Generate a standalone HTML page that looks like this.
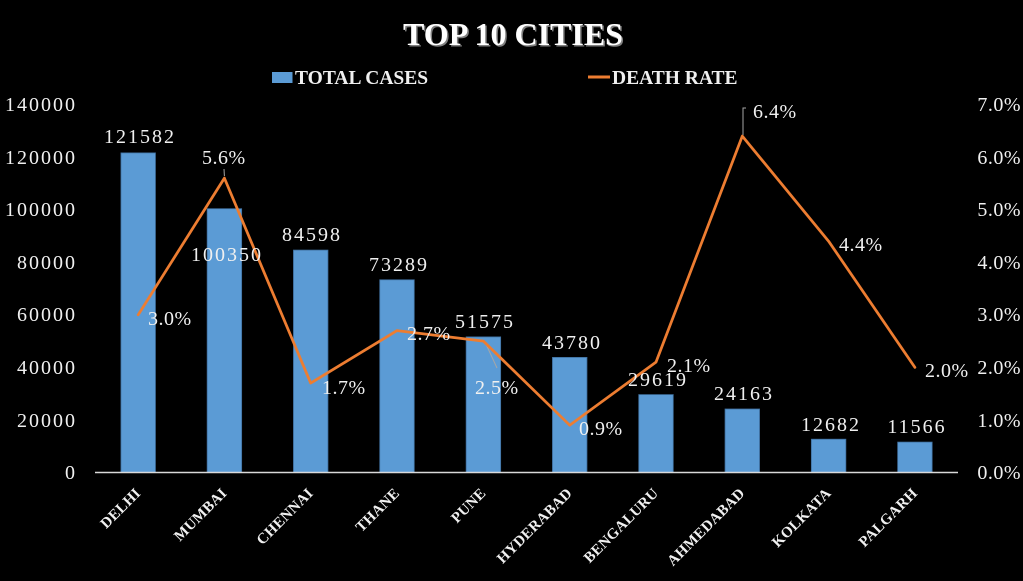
<!DOCTYPE html>
<html>
<head>
<meta charset="utf-8">
<style>
html,body{margin:0;padding:0;background:#000;}
svg{display:block;}
text{font-family:"Liberation Serif",serif;fill:#f0f0f0;}
.num{font-size:20px;letter-spacing:2px;}
.pct{font-size:20px;letter-spacing:0.5px;}
.cat{font-size:15px;font-weight:bold;letter-spacing:0.3px;}
.leg{font-size:19.5px;font-weight:bold;}
</style>
</head>
<body>
<svg width="1023" height="581" viewBox="0 0 1023 581" xmlns="http://www.w3.org/2000/svg">
<rect width="1023" height="581" fill="#000"/>

<!-- Title -->
<text x="513" y="45" text-anchor="middle" style="font-size:32px;font-weight:bold;fill:#7f7f7f" transform="translate(1.5,1.5)">TOP 10 CITIES</text>
<text x="513" y="45" text-anchor="middle" style="font-size:32px;font-weight:bold;fill:#ffffff">TOP 10 CITIES</text>

<!-- Legend -->
<rect x="272" y="72" width="20.5" height="11" fill="#5B9BD5"/>
<text class="leg" x="295" y="84">TOTAL CASES</text>
<line x1="588" y1="77" x2="610" y2="77" stroke="#ED7D31" stroke-width="3"/>
<text class="leg" x="612" y="84">DEATH RATE</text>

<!-- Left axis labels -->
<g text-anchor="end">
<text class="num" x="77" y="111">140000</text>
<text class="num" x="77" y="164">120000</text>
<text class="num" x="77" y="216">100000</text>
<text class="num" x="77" y="269">80000</text>
<text class="num" x="77" y="321">60000</text>
<text class="num" x="77" y="374">40000</text>
<text class="num" x="77" y="427">20000</text>
<text class="num" x="77" y="479">0</text>
</g>

<!-- Right axis labels -->
<g text-anchor="end">
<text class="pct" x="1021" y="111">7.0%</text>
<text class="pct" x="1021" y="164">6.0%</text>
<text class="pct" x="1021" y="216">5.0%</text>
<text class="pct" x="1021" y="269">4.0%</text>
<text class="pct" x="1021" y="321">3.0%</text>
<text class="pct" x="1021" y="374">2.0%</text>
<text class="pct" x="1021" y="427">1.0%</text>
<text class="pct" x="1021" y="479">0.0%</text>
</g>

<!-- Bars -->
<g fill="#5B9BD5" stroke="#3f6f9e" stroke-width="0.8">
<rect x="120.95" y="152.9" width="34.5" height="319.6"/>
<rect x="207.15" y="208.7" width="34.5" height="263.8"/>
<rect x="293.45" y="250.1" width="34.5" height="222.4"/>
<rect x="379.75" y="279.8" width="34.5" height="192.7"/>
<rect x="466.15" y="336.9" width="34.5" height="135.6"/>
<rect x="552.45" y="357.4" width="34.5" height="115.1"/>
<rect x="638.75" y="394.6" width="34.5" height="77.9"/>
<rect x="725.05" y="409.0" width="34.5" height="63.5"/>
<rect x="811.35" y="439.2" width="34.5" height="33.3"/>
<rect x="897.65" y="442.1" width="34.5" height="30.4"/>
</g>

<!-- Axis line -->
<line x1="95" y1="472.5" x2="958" y2="472.5" stroke="#d9d9d9" stroke-width="1.5"/>

<!-- Leader lines -->
<g stroke="#a6a6a6" stroke-width="1" fill="none">
<line x1="224" y1="169" x2="224.4" y2="176"/>
<polyline points="746,108 743,108 743,135"/>
<line x1="485" y1="342" x2="497" y2="368"/>
</g>

<!-- Death rate line -->
<polyline fill="none" stroke="#ED7D31" stroke-width="2.75" stroke-linejoin="round" stroke-linecap="round"
points="138.2,314.8 224.4,178.1 310.7,383.1 397.0,330.6 483.4,341.1 569.7,425.2 656.0,362.1 742.3,136.1 828.6,241.2 914.9,367.4"/>

<!-- Bar data labels -->
<g text-anchor="middle">
<text class="num" x="140" y="143">121582</text>
<text class="num" x="227" y="261">100350</text>
<text class="num" x="312" y="241">84598</text>
<text class="num" x="399" y="271">73289</text>
<text class="num" x="485" y="328">51575</text>
<text class="num" x="572" y="349">43780</text>
<text class="num" x="658" y="386">29619</text>
<text class="num" x="744" y="400">24163</text>
<text class="num" x="831" y="431">12682</text>
<text class="num" x="917" y="433">11566</text>
</g>

<!-- Line data labels -->
<text class="pct" x="148" y="325">3.0%</text>
<text class="pct" x="202" y="164">5.6%</text>
<text class="pct" x="322" y="394">1.7%</text>
<text class="pct" x="407" y="340">2.7%</text>
<text class="pct" x="475" y="394">2.5%</text>
<text class="pct" x="579" y="435">0.9%</text>
<text class="pct" x="667" y="372">2.1%</text>
<text class="pct" x="753" y="118">6.4%</text>
<text class="pct" x="839" y="251">4.4%</text>
<text class="pct" x="925" y="377">2.0%</text>

<!-- Category labels -->
<g text-anchor="end">
<text class="cat" transform="translate(141.5,494) rotate(-45)">DELHI</text>
<text class="cat" transform="translate(227.7,494) rotate(-45)">MUMBAI</text>
<text class="cat" transform="translate(314.0,494) rotate(-45)">CHENNAI</text>
<text class="cat" transform="translate(400.3,494) rotate(-45)">THANE</text>
<text class="cat" transform="translate(486.7,494) rotate(-45)">PUNE</text>
<text class="cat" transform="translate(573.0,494) rotate(-45)">HYDERABAD</text>
<text class="cat" transform="translate(659.3,494) rotate(-45)">BENGALURU</text>
<text class="cat" transform="translate(745.6,494) rotate(-45)">AHMEDABAD</text>
<text class="cat" transform="translate(831.9,494) rotate(-45)">KOLKATA</text>
<text class="cat" transform="translate(918.2,494) rotate(-45)">PALGARH</text>
</g>
</svg>
</body>
</html>
